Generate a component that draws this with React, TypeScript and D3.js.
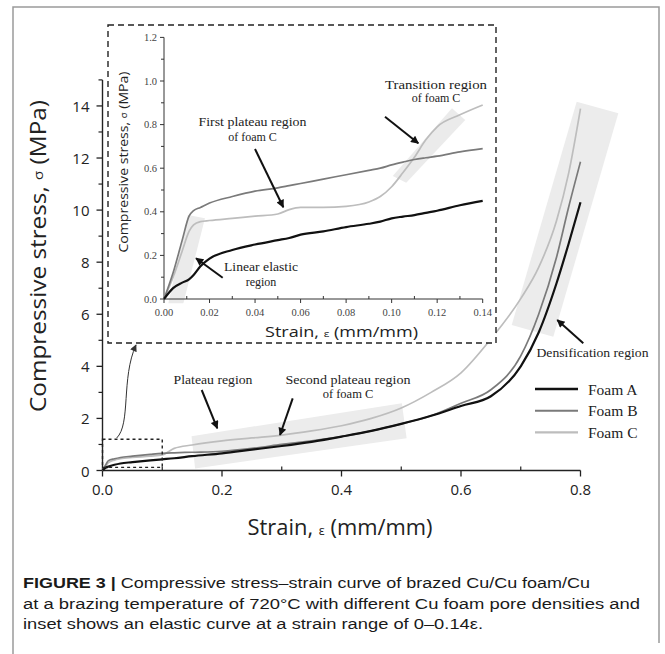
import React from 'react';
import * as d3 from 'd3';

// ---- main plot data (strain in mm/mm, stress in MPa) ----
const mainStrain = [0, 0.005, 0.01, 0.02, 0.03, 0.05, 0.08, 0.1, 0.12, 0.15, 0.2, 0.25, 0.3, 0.35, 0.4, 0.45, 0.5, 0.55, 0.6, 0.65, 0.7, 0.73, 0.76, 0.78, 0.8];
const mainStressA = [0, 0.1, 0.15, 0.22, 0.27, 0.32, 0.39, 0.43, 0.47, 0.55, 0.66, 0.8, 0.94, 1.1, 1.3, 1.52, 1.79, 2.1, 2.48, 2.85, 4.0, 5.3, 7.2, 8.7, 10.3];
const mainStressB = [0, 0.2, 0.38, 0.45, 0.5, 0.55, 0.62, 0.66, 0.68, 0.7, 0.74, 0.85, 1.0, 1.14, 1.3, 1.52, 1.79, 2.1, 2.58, 3.1, 4.4, 6.0, 8.2, 10.1, 11.86];
const mainStressC = [0, 0.15, 0.3, 0.4, 0.45, 0.5, 0.55, 0.6, 0.85, 0.98, 1.14, 1.25, 1.36, 1.52, 1.72, 2.0, 2.4, 3.0, 3.75, 5.05, 6.6, 7.8, 9.6, 11.4, 13.9];

// ---- inset data ----
const insetStrain = [0, 0.004, 0.008, 0.011, 0.013, 0.016, 0.02, 0.03, 0.04, 0.05, 0.055, 0.06, 0.07, 0.08, 0.09, 0.095, 0.1, 0.105, 0.11, 0.115, 0.12, 0.13, 0.14];
const insetStressA = [0, 0.05, 0.075, 0.09, 0.11, 0.15, 0.185, 0.225, 0.25, 0.27, 0.28, 0.295, 0.31, 0.33, 0.345, 0.355, 0.37, 0.378, 0.385, 0.395, 0.405, 0.43, 0.45];
const insetStressB = [0, 0.12, 0.27, 0.38, 0.405, 0.42, 0.44, 0.47, 0.495, 0.51, 0.52, 0.53, 0.55, 0.57, 0.59, 0.6, 0.615, 0.628, 0.64, 0.648, 0.655, 0.675, 0.69];
const insetStressC = [0, 0.1, 0.22, 0.31, 0.34, 0.355, 0.36, 0.37, 0.38, 0.39, 0.41, 0.42, 0.42, 0.425, 0.445, 0.47, 0.515, 0.58, 0.65, 0.73, 0.79, 0.845, 0.89];

// shaded regions, corners in data units [strain, stress]
const plateauBand: [number, number][] = [[0.149, 1.32], [0.501, 2.58], [0.509, 1.24], [0.155, 0.08]];
const densBand: [number, number][] = [[0.7936, 14.16], [0.8633, 13.72], [0.7545, 5.14], [0.6849, 5.59]];
const elasticBand: [number, number][] = [[0.0019, -0.02], [0.0085, -0.02], [0.018, 0.37], [0.0105, 0.385]];
const transitionBand: [number, number][] = [[0.1005, 0.564], [0.1064, 0.533], [0.1323, 0.821], [0.1265, 0.875]];
const zoomBox: [number, number][] = [[0, 0.12], [0.1, 1.2]];

const mainYTicks = [0, 2, 4, 6, 8, 10, 12, 14];
const mainYMinor = [1, 3, 5, 7, 9, 11, 13, 15];
const mainXTicks = [0, 0.2, 0.4, 0.6, 0.8];
const mainXMinor = [0.1, 0.3, 0.5, 0.7];
const insetYTicks = [0, 0.2, 0.4, 0.6, 0.8, 1.0, 1.2];
const insetXTicks = [0, 0.02, 0.04, 0.06, 0.08, 0.1, 0.12, 0.14];

const foams = ['Foam A', 'Foam B', 'Foam C'];
const foamColors = ['#111111', '#7a7a7a', '#bdbdbd'];
const foamWidths = [2.2, 1.7, 1.7];

const SANS = "'Open Sans', 'DejaVu Sans', sans-serif";
const SERIF = "'Liberation Serif', 'Times New Roman', serif";
const CAP = "'Liberation Sans', Arial, sans-serif";

export default function App() {
  const x = d3.scaleLinear().domain([0, 0.8]).range([102.5, 580.5]);
  const y = d3.scaleLinear().domain([0, 15]).range([470.5, 470.5 - 15 * 26.04]);
  const xi = d3.scaleLinear().domain([0, 0.14]).range([164, 482.7]);
  const yi = d3.scaleLinear().domain([0, 1.2]).range([299, 37.4]);

  const mainLine = (vals: number[]) =>
    d3.line<number>().x((_, i) => x(mainStrain[i])).y(d => y(d)).curve(d3.curveMonotoneX)(vals) || '';
  const insetLine = (vals: number[]) =>
    d3.line<number>().x((_, i) => xi(insetStrain[i])).y(d => yi(d)).curve(d3.curveMonotoneX)(vals) || '';
  const poly = (pts: [number, number][], sx: any, sy: any) =>
    pts.map(p => `${sx(p[0])},${sy(p[1])}`).join(' ');

  const mainSeries = [mainStressA, mainStressB, mainStressC];
  const insetSeries = [insetStressA, insetStressB, insetStressC];

  const arrow = (x1: number, y1: number, x2: number, y2: number, w = 2) => (
    <line x1={x1} y1={y1} x2={x2} y2={y2} stroke="#111" strokeWidth={w} markerEnd="url(#ah)" />
  );
  const note = (tx: number, ty: number, s: string, len?: number, fs = 12.5) => (
    <text x={tx} y={ty} textAnchor="middle" dominantBaseline="central" fontFamily={SERIF} fontSize={fs} fill="#222"
      textLength={len} lengthAdjust={len ? 'spacingAndGlyphs' : undefined}>{s}</text>
  );

  return (
    <svg width={665} height={654} style={{ position: 'absolute', left: 0, top: 0, background: '#fff' }}>
      <defs>
        <marker id="ah" viewBox="0 0 10 10" refX="9" refY="5" markerWidth="10" markerHeight="8" markerUnits="userSpaceOnUse" orient="auto">
          <path d="M0,0 L10,5 L0,10 z" fill="#111" />
        </marker>
        <marker id="ah2" viewBox="0 0 10 10" refX="9" refY="5" markerWidth="8" markerHeight="7" markerUnits="userSpaceOnUse" orient="auto">
          <path d="M0,0 L10,5 L0,10 z" fill="#333" />
        </marker>
      </defs>

      {/* frame */}
      <path d="M13,660 L13,7 L659,7 L659,643" fill="none" stroke="#9a9a9a" strokeWidth={1.5} />

      {/* main shaded regions */}
      <polygon points={poly(plateauBand, x, y)} fill="#ececec" />
      <polygon points={poly(densBand, x, y)} fill="#ececec" />

      {/* main axes */}
      <line x1={x(0)} x2={x(0)} y1={y(0)} y2={y(15)} stroke="#222" strokeWidth={1.4} />
      <line x1={x(0)} x2={x(0.8)} y1={y(0)} y2={y(0)} stroke="#222" strokeWidth={1.4} />
      {mainYTicks.map(t => (
        <g key={'yt' + t}>
          <line x1={x(0) - 6} x2={x(0)} y1={y(t)} y2={y(t)} stroke="#222" strokeWidth={1.3} />
          <text x={x(0) - 13} y={y(t)} textAnchor="end" dominantBaseline="central" fontFamily={SANS} fontSize={15} fill="#222">{t}</text>
        </g>
      ))}
      {mainYMinor.map(t => (
        <line key={'ym' + t} x1={x(0) - 4} x2={x(0)} y1={y(t)} y2={y(t)} stroke="#222" strokeWidth={1.2} />
      ))}
      {mainXTicks.map(t => (
        <g key={'xt' + t}>
          <line x1={x(t)} x2={x(t)} y1={y(0)} y2={y(0) + 6} stroke="#222" strokeWidth={1.3} />
          <text x={x(t)} y={y(0) + 18} textAnchor="middle" dominantBaseline="central" fontFamily={SANS} fontSize={15} fill="#222">{t.toFixed(1)}</text>
        </g>
      ))}
      {mainXMinor.map(t => (
        <line key={'xm' + t} x1={x(t)} x2={x(t)} y1={y(0) - 4} y2={y(0)} stroke="#222" strokeWidth={1.2} />
      ))}

      <text transform="translate(38,256) rotate(-90)" textAnchor="middle" dominantBaseline="central" fontFamily={SANS} fontSize={21} fill="#222"
        textLength={312} lengthAdjust="spacingAndGlyphs">
        Compressive stress, <tspan fontSize={13}>σ</tspan> (MPa)
      </text>
      <text x={340} y={535} textAnchor="middle" fontFamily={SANS} fontSize={21} fill="#222" textLength={185} lengthAdjust="spacingAndGlyphs">
        Strain, <tspan fontSize={12}>ε</tspan> (mm/mm)
      </text>

      {/* main curves */}
      {[2, 1, 0].map(k => (
        <path key={'mc' + k} d={mainLine(mainSeries[k])} fill="none" stroke={foamColors[k]} strokeWidth={foamWidths[k]} strokeLinejoin="round" />
      ))}

      {/* zoom box and connector */}
      <rect x={x(zoomBox[0][0])} y={y(zoomBox[1][1])} width={x(zoomBox[1][0]) - x(zoomBox[0][0])} height={y(zoomBox[0][1]) - y(zoomBox[1][1])}
        fill="none" stroke="#222" strokeWidth={1.4} strokeDasharray="3 3" />
      <path d="M116.7,438 C131,424 121,378 136,345" fill="none" stroke="#333" strokeWidth={1} markerEnd="url(#ah2)" />

      {/* main annotations */}
      {note(213, 380, 'Plateau region', 79)}
      {arrow(201.7, 390, 217.3, 428.3)}
      {note(348, 380, 'Second plateau region', 125)}
      {note(348, 393.5, 'of foam C')}
      {arrow(292.7, 398.3, 280, 435)}
      {note(592.5, 353, 'Densification region', 112)}
      {arrow(583.3, 343.3, 557.3, 320)}

      {/* legend */}
      {foams.map((f, k) => (
        <g key={f}>
          <line x1={535} x2={578} y1={389 + k * 21.7} y2={389 + k * 21.7} stroke={foamColors[k]} strokeWidth={foamWidths[k] + 0.4} />
          <text x={588} y={389 + k * 21.7} dominantBaseline="central" fontFamily={SERIF} fontSize={15.5} fill="#222">{f}</text>
        </g>
      ))}

      {/* inset */}
      <rect x={108} y={25} width={388} height={318} fill="#fff" stroke="#222" strokeWidth={1.4} strokeDasharray="6 4" />
      <polygon points={poly(elasticBand, xi, yi)} fill="#ebebeb" />
      <polygon points={poly(transitionBand, xi, yi)} fill="#ebebeb" />

      <line x1={xi(0)} x2={xi(0)} y1={yi(0)} y2={yi(1.2)} stroke="#333" strokeWidth={1} />
      <line x1={xi(0)} x2={xi(0.14)} y1={yi(0)} y2={yi(0)} stroke="#333" strokeWidth={1} />
      {insetYTicks.map(t => (
        <g key={'iyt' + t}>
          <line x1={xi(0) - 4} x2={xi(0)} y1={yi(t)} y2={yi(t)} stroke="#333" />
          <text x={157} y={yi(t)} textAnchor="end" dominantBaseline="central" fontFamily={SERIF} fontSize={10.5} fill="#444">{t.toFixed(1)}</text>
        </g>
      ))}
      {d3.range(1, 12, 2).map(i => (
        <line key={'iym' + i} x1={xi(0) - 3} x2={xi(0)} y1={yi(i * 0.1)} y2={yi(i * 0.1)} stroke="#333" />
      ))}
      {insetXTicks.map(t => (
        <g key={'ixt' + t}>
          <line x1={xi(t)} x2={xi(t)} y1={yi(0)} y2={yi(0) + 4} stroke="#333" />
          <text x={xi(t)} y={312} textAnchor="middle" dominantBaseline="central" fontFamily={SERIF} fontSize={10.5} fill="#444">{t.toFixed(2)}</text>
        </g>
      ))}
      {d3.range(1, 14, 2).map(i => (
        <line key={'ixm' + i} x1={xi(i * 0.01)} x2={xi(i * 0.01)} y1={yi(0) - 3} y2={yi(0)} stroke="#333" />
      ))}
      <text transform="translate(123,162) rotate(-90)" textAnchor="middle" dominantBaseline="central" fontFamily={SANS} fontSize={13.5} fill="#222"
        textLength={181} lengthAdjust="spacingAndGlyphs">
        Compressive stress, <tspan fontSize={9}>σ</tspan> (MPa)
      </text>
      <text x={341.5} y={337} textAnchor="middle" fontFamily={SANS} fontSize={14} fill="#222" textLength={153} lengthAdjust="spacingAndGlyphs">
        Strain, <tspan fontSize={9}>ε</tspan> (mm/mm)
      </text>

      {[2, 1, 0].map(k => (
        <path key={'ic' + k} d={insetLine(insetSeries[k])} fill="none" stroke={foamColors[k]} strokeWidth={foamWidths[k]} strokeLinejoin="round" />
      ))}

      {note(252.5, 121.7, 'First  plateau region', 108, 12)}
      {note(252.5, 136.7, 'of foam C', undefined, 12)}
      {arrow(255, 149, 283.3, 207.3)}
      {note(261, 266.7, 'Linear elastic', 74, 12)}
      {note(261, 281.7, 'region', undefined, 12)}
      {arrow(222.7, 277.7, 196, 258.3)}
      {note(436, 85, 'Transition region', 102, 12)}
      {note(436, 97.5, 'of foam C', undefined, 12)}
      {arrow(385, 116.7, 418.3, 143.3)}

      {/* caption */}
      <g fontFamily={CAP} fontSize={15.5} fill="#1a1a1a">
        <text x={23} y={588} textLength={567} lengthAdjust="spacingAndGlyphs">
          <tspan fontWeight="bold">FIGURE 3 |</tspan> Compressive stress–strain curve of brazed Cu/Cu foam/Cu
        </text>
        <text x={23} y={608.5} textLength={617} lengthAdjust="spacingAndGlyphs">
          at a brazing temperature of 720°C with different Cu foam pore densities and
        </text>
        <text x={23} y={629} textLength={460} lengthAdjust="spacingAndGlyphs">
          inset shows an elastic curve at a strain range of 0–0.14ε.
        </text>
      </g>
    </svg>
  );
}
